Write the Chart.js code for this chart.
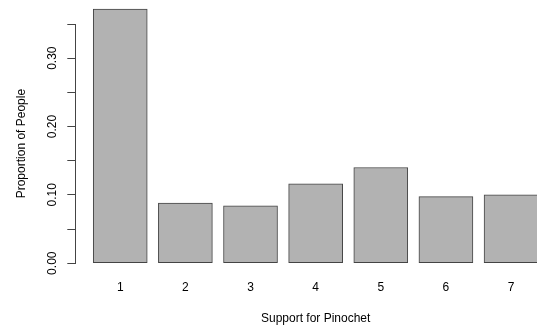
<!DOCTYPE html>
<html>
<head>
<meta charset="utf-8">
<script src="https://cdn.jsdelivr.net/npm/chart.js@4"></script>
<style>
    html, body { margin: 0; padding: 0; background: #fff; overflow: hidden; }
    #wrap { width: 560px; height: 331px; position: relative; }
</style>
</head>
<body>
<div id="wrap"><canvas id="chart"></canvas></div>
<script>
const categories = ['1', '2', '3', '4', '5', '6', '7'];
const proportions = [0.372, 0.088, 0.084, 0.116, 0.140, 0.0975, 0.100];
const yTickLabels = ['0.00', '0.10', '0.20', '0.30'];

const fontFamily = '"Liberation Sans", Arial, Helvetica, sans-serif';
const axisColor = '#444';

const points = categories.map((c, i) => ({ x: i + 1, y: proportions[i] }));

new Chart(document.getElementById('chart'), {
    type: 'bar',
    data: {
        datasets: [{
            data: points,
            backgroundColor: '#b2b2b2',
            borderColor: '#444',
            borderWidth: 1,
            borderSkipped: false,
            barThickness: 54,
            clip: false
        }]
    },
    options: {
        responsive: true,
        maintainAspectRatio: false,
        animation: false,
        layout: {
            padding: { top: 24, right: 4, bottom: 0, left: 0 }
        },
        plugins: {
            legend: { display: false },
            tooltip: { enabled: false }
        },
        scales: {
            x: {
                type: 'linear',
                offset: false,
                min: 0.31,
                max: 7.69,
                grid: { display: false, drawTicks: false },
                border: { display: false },
                ticks: {
                    stepSize: 1,
                    includeBounds: false,
                    padding: 17,
                    color: '#000',
                    font: { family: fontFamily, size: 12 },
                    callback: value => categories[value - 1] ?? ''
                },
                title: {
                    display: true,
                    text: 'Support for Pinochet',
                    color: '#000',
                    font: { family: fontFamily, size: 12 },
                    padding: { top: 0, bottom: 5 }
                }
            },
            y: {
                min: 0,
                max: 0.35,
                grid: {
                    drawOnChartArea: false,
                    drawTicks: true,
                    tickLength: 8,
                    color: axisColor
                },
                border: { display: true, color: axisColor, width: 1 },
                ticks: {
                    stepSize: 0.05,
                    minRotation: 90,
                    maxRotation: 90,
                    crossAlign: 'center',
                    padding: 2.5,
                    color: '#000',
                    font: { family: fontFamily, size: 12 },
                    callback: value => {
                        const s = value.toFixed(2);
                        return yTickLabels.includes(s) ? s : '';
                    }
                },
                title: {
                    display: true,
                    text: 'Proportion of People',
                    color: '#000',
                    font: { family: fontFamily, size: 12 },
                    padding: { top: 14.5, bottom: 19 }
                }
            }
        }
    }
});
</script>
</body>
</html>
